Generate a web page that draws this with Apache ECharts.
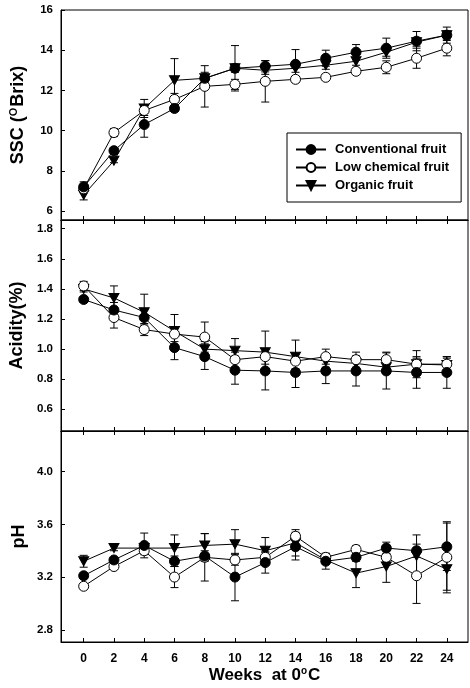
<!DOCTYPE html>
<html>
<head>
<meta charset="utf-8">
<script src="https://cdn.jsdelivr.net/npm/echarts@6/dist/echarts.min.js"></script>
<style>html,body{margin:0;padding:0;background:#fff;}#c{width:470px;height:688px;}</style>
</head>
<body>
<div id="c"></div>
<script>
// ---- data ----
const weeks = [0, 2, 4, 6, 8, 10, 12, 14, 16, 18, 20, 22, 24];
const seriesNames = ['Conventional fruit', 'Low chemical fruit', 'Organic fruit'];

const sscTicks = [6, 8, 10, 12, 14, 16];
const acidTicks = [0.6, 0.8, 1.0, 1.2, 1.4, 1.6, 1.8];
const phTicks = [2.8, 3.2, 3.6, 4.0];

const sscConv = [7.2, 9.0, 10.3, 11.1, 12.6, 13.1, 13.2, 13.3, 13.6, 13.9, 14.1, 14.45, 14.75];
const sscLow  = [7.1, 9.9, 11.0, 11.55, 12.2, 12.3, 12.45, 12.55, 12.65, 12.95, 13.15, 13.6, 14.1];
const sscOrg  = [6.8, 8.5, 11.1, 12.5, 12.6, 13.1, 13.0, 13.1, 13.25, 13.45, 13.9, 14.4, 14.75];
const sscConvErr = [0.25, 0.15, 0.63, 0.15, 0.3, 1.13, 0.28, 0.73, 0.4, 0.38, 0.5, 0.48, 0.4];
const sscLowErr  = [0.2, 0.2, 0.25, 0.3, 1.03, 0.25, 1.03, 0.15, 0.15, 0.15, 0.32, 0.5, 0.38];
const sscOrgErr  = [0.25, 0.1, 0.45, 1.08, 0.2, 0.2, 0.2, 0.2, 0.2, 0.2, 0.2, 0.2, 0.2];

const acidConv = [1.33, 1.26, 1.21, 1.01, 0.95, 0.86, 0.855, 0.845, 0.855, 0.855, 0.855, 0.845, 0.845];
const acidLow  = [1.42, 1.21, 1.13, 1.10, 1.08, 0.93, 0.95, 0.92, 0.95, 0.93, 0.93, 0.90, 0.90];
const acidOrg  = [1.40, 1.34, 1.245, 1.12, 1.0, 0.99, 0.98, 0.95, 0.92, 0.905, 0.88, 0.90, 0.895];
const acidConvErr = [0.02, 0.05, 0.05, 0.08, 0.085, 0.093, 0.126, 0.1, 0.084, 0.1, 0.12, 0.105, 0.105];
const acidLowErr  = [0.03, 0.07, 0.04, 0.05, 0.1, 0.05, 0.05, 0.05, 0.05, 0.05, 0.05, 0.04, 0.04];
const acidOrgErr  = [0.02, 0.08, 0.12, 0.11, 0.05, 0.08, 0.14, 0.11, 0.04, 0.04, 0.04, 0.09, 0.055];

const phConv = [3.21, 3.33, 3.44, 3.32, 3.36, 3.20, 3.31, 3.43, 3.32, 3.35, 3.42, 3.40, 3.43];
const phLow  = [3.13, 3.28, 3.40, 3.20, 3.35, 3.33, 3.35, 3.51, 3.35, 3.41, 3.35, 3.21, 3.35];
const phOrg  = [3.32, 3.42, 3.42, 3.42, 3.44, 3.45, 3.40, 3.46, 3.33, 3.23, 3.28, 3.36, 3.26];
const phConvErr = [0.02, 0.02, 0.094, 0.04, 0.04, 0.18, 0.08, 0.1, 0.06, 0.03, 0.045, 0.05, 0.18];
const phLowErr  = [0.02, 0.02, 0.03, 0.08, 0.18, 0.04, 0.04, 0.03, 0.03, 0.03, 0.03, 0.21, 0.27];
const phOrgErr  = [0.045, 0.02, 0.03, 0.1, 0.09, 0.11, 0.1, 0.1, 0.03, 0.11, 0.12, 0.16, 0.16];

// ---- chart ----
const FONT = 'Liberation Sans';
const chart = echarts.init(document.getElementById('c'), null, {renderer: 'canvas'});

const grids = [
  {left: 61, right: 2, top: 10, height: 210},
  {left: 61, right: 2, top: 220, height: 211},
  {left: 61, right: 2, top: 431, height: 211}
].map(g => Object.assign(g, {show: true, borderColor: '#000', borderWidth: 1, backgroundColor: 'transparent'}));

function xAx(gi, pos, showLabels) {
  return {
    type: 'value', gridIndex: gi, position: pos, min: -1.5, max: 25.4,
    axisLine: {show: true, onZero: false, lineStyle: {color: '#000', width: 1}},
    axisTick: {show: true, inside: true, length: 4, customValues: weeks, lineStyle: {color: '#000'}},
    axisLabel: {show: showLabels, customValues: weeks, margin: 11, fontSize: 12, fontWeight: 'bold', color: '#000', fontFamily: FONT},
    splitLine: {show: false}
  };
}
const xAxes = [xAx(0, 'bottom', false), xAx(1, 'bottom', false), xAx(2, 'bottom', true), xAx(1, 'top', false), xAx(2, 'top', false)];
xAxes[2].name = 'Weeks  at 0{sup|o}C';
xAxes[2].nameLocation = 'middle';
xAxes[2].nameGap = 24;
xAxes[2].nameMoveOverlap = false;
xAxes[2].nameTextStyle = {fontSize: 17, fontWeight: 'bold', color: '#000', fontFamily: FONT,
  rich: {sup: {fontSize: 10, fontWeight: 'bold', color: '#000', fontFamily: FONT, verticalAlign: 'top', padding: [0, 1, 9, 0]}}};

function yAx(gi, min, max, ticks, name, gap, dec) {
  return {
    type: 'value', gridIndex: gi, min: min, max: max,
    axisLine: {show: true, onZero: false, lineStyle: {color: '#000', width: 1}},
    axisTick: {show: true, inside: true, length: 4, customValues: ticks, lineStyle: {color: '#000'}},
    axisLabel: {customValues: ticks, margin: 8, fontSize: 11.5, fontWeight: 'bold', color: '#000', fontFamily: FONT,
      formatter: v => dec ? Number(v).toFixed(dec) : String(Math.round(v))},
    splitLine: {show: false},
    name: name, nameLocation: 'middle', nameGap: gap, nameMoveOverlap: false,
    nameTextStyle: {fontSize: 18, fontWeight: 'bold', color: '#000', fontFamily: FONT,
      rich: {sup: {fontSize: 11, fontWeight: 'bold', color: '#000', fontFamily: FONT, verticalAlign: 'top', padding: [0, 1, 10, 0]}}}
  };
}
const yAxes = [
  yAx(0, 5.55, 16, sscTicks, 'SSC ({sup|O}Brix)', 32, 0),
  yAx(1, 0.456, 1.858, acidTicks, 'Acidity(%)', 35, 1),
  yAx(2, 2.707, 4.309, phTicks, 'pH', 33, 1)
];

const styles = [
  {symbol: 'circle', rotate: 0, fill: '#000'},
  {symbol: 'circle', rotate: 0, fill: '#fff'},
  {symbol: 'triangle', rotate: 180, fill: '#000'}
];

function pairs(vals) { return weeks.map((w, i) => [w, vals[i]]); }
function errPairs(vals, errs) { return weeks.map((w, i) => [w, vals[i] - errs[i], vals[i] + errs[i]]); }

function errSeries(gi, vals, errs) {
  return {
    type: 'custom', xAxisIndex: gi, yAxisIndex: gi, z: 1, silent: true,
    data: errPairs(vals, errs),
    renderItem: function (params, api) {
      const x = api.value(0);
      const lo = api.coord([x, api.value(1)]);
      const hi = api.coord([x, api.value(2)]);
      const hw = 4;
      const st = {stroke: '#000', lineWidth: 1};
      return {type: 'group', children: [
        {type: 'line', shape: {x1: lo[0], y1: lo[1], x2: hi[0], y2: hi[1]}, style: st},
        {type: 'line', shape: {x1: lo[0] - hw, y1: lo[1], x2: lo[0] + hw, y2: lo[1]}, style: st},
        {type: 'line', shape: {x1: hi[0] - hw, y1: hi[1], x2: hi[0] + hw, y2: hi[1]}, style: st}
      ]};
    }
  };
}

function lineSeries(gi, si, vals) {
  const s = styles[si];
  return {
    type: 'line', name: seriesNames[si], xAxisIndex: gi, yAxisIndex: gi,
    data: pairs(vals), symbol: s.symbol, symbolRotate: s.rotate,
    symbolSize: s.symbol === 'triangle' ? [10, 9] : 10,
    showAllSymbol: true, animation: false,
    z: 3 + (2 - si),
    lineStyle: {color: '#000', width: 1},
    itemStyle: {color: s.fill, borderColor: '#000', borderWidth: 1}
  };
}

const panels = [
  [sscConv, sscLow, sscOrg, sscConvErr, sscLowErr, sscOrgErr],
  [acidConv, acidLow, acidOrg, acidConvErr, acidLowErr, acidOrgErr],
  [phConv, phLow, phOrg, phConvErr, phLowErr, phOrgErr]
];
const series = [];
panels.forEach((p, gi) => {
  for (let si = 0; si < 3; si++) series.push(errSeries(gi, p[si], p[si + 3]));
  for (let si = 0; si < 3; si++) series.push(lineSeries(gi, si, p[si]));
});

chart.setOption({
  animation: false,
  textStyle: {fontFamily: FONT},
  grid: grids,
  xAxis: xAxes,
  yAxis: yAxes,
  legend: {
    data: seriesNames, orient: 'vertical', left: 287, top: 133,
    backgroundColor: '#fff', borderColor: '#000', borderWidth: 1,
    padding: [10, 12, 10, 8], itemGap: 5, itemWidth: 30, itemHeight: 11,
    textStyle: {fontSize: 13, fontWeight: 'bold', color: '#000', fontFamily: FONT, padding: [0, 0, 0, 4]},
    selectedMode: false
  },
  series: series
});
</script>
</body>
</html>
